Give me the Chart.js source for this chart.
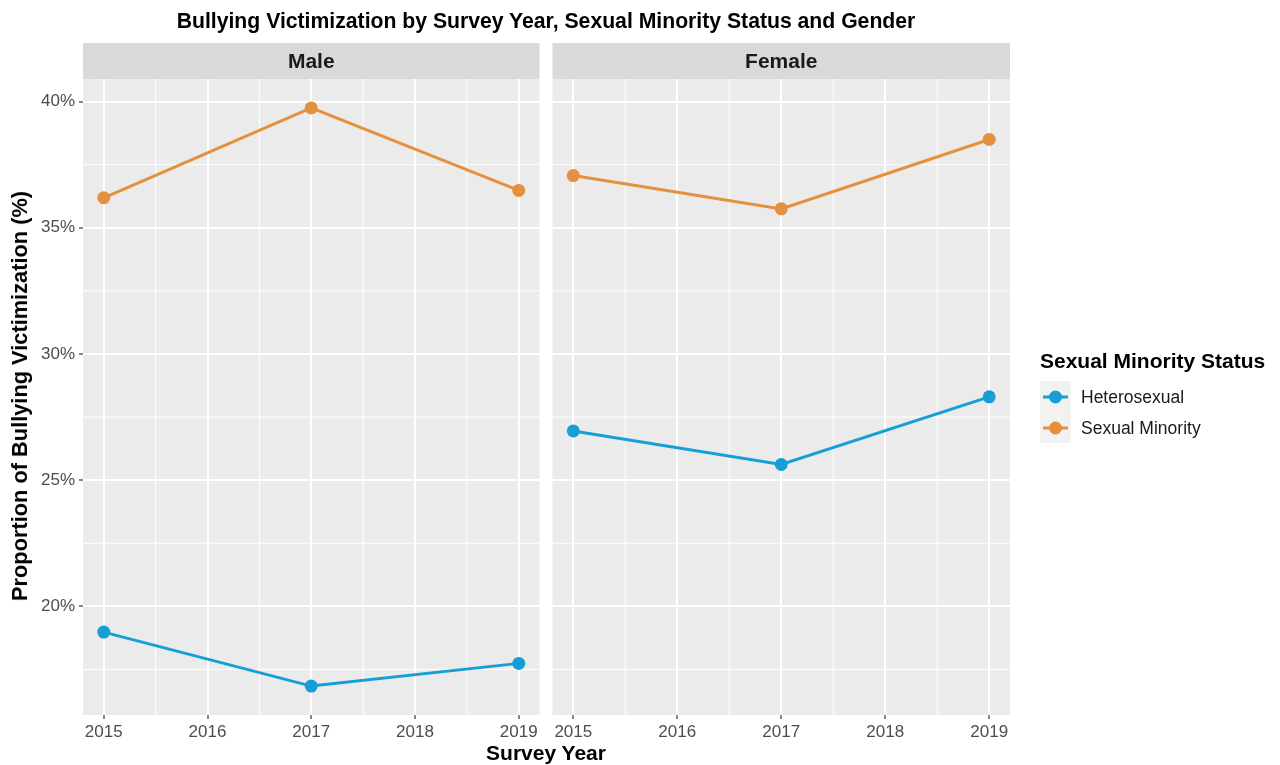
<!DOCTYPE html>
<html>
<head>
<meta charset="utf-8">
<script src="https://cdn.jsdelivr.net/npm/chart.js@4.4.1/dist/chart.umd.min.js"></script>
<style>
  html, body { margin: 0; padding: 0; background: #ffffff; }
  body { width: 1280px; height: 765px; position: relative; overflow: hidden;
         font-family: "Liberation Sans", Arial, Helvetica, sans-serif; }
  #male  { position: absolute; left: 0;   top: 0; width: 546px; height: 765px; }
  #female{ position: absolute; left: 546px; top: 0; width: 734px; height: 765px; }
  .txt { position: absolute; font-weight: bold; color: #000; white-space: nowrap; }
  #title  { left: 546px; top: 21px; transform: translate(-50%, -50%); font-size: 21.2px; }
  #xtitle { left: 546px; top: 753px; transform: translate(-50%, -50%); font-size: 21px; }
  #ytitle { left: 20px; top: 396px; transform: translate(-50%, -50%) rotate(-90deg); font-size: 21.8px; }
</style>
</head>
<body>
<canvas id="male" width="546" height="765"></canvas>
<canvas id="female" width="734" height="765"></canvas>
<div class="txt" id="title">Bullying Victimization by Survey Year, Sexual Minority Status and Gender</div>
<div class="txt" id="xtitle">Survey Year</div>
<div class="txt" id="ytitle">Proportion of Bullying Victimization (%)</div>
<script>
// Survey years and proportions (%) per gender panel
const years = [2015, 2017, 2019];
const groups = ['Heterosexual', 'Sexual Minority'];
const maleHetero = [18.98, 16.84, 17.74];
const maleMinority = [36.19, 39.75, 36.48];
const femaleHetero = [26.95, 25.62, 28.30];
const femaleMinority = [37.07, 35.75, 38.50];

// Axis breaks
const xTicks = [2015, 2016, 2017, 2018, 2019];
const xMinor = [2015.5, 2016.5, 2017.5, 2018.5];
const yTicks = [20, 25, 30, 35, 40];
const yMinor = [17.5, 22.5, 27.5, 32.5, 37.5];

const groupColors = ['#169FD6', '#E4913F'];
const FONT = '"Liberation Sans", Arial, Helvetica, sans-serif';

// Shared limits with 5% expansion on each side
const allVals = maleHetero.concat(maleMinority, femaleHetero, femaleMinority);
const yLo = Math.min(...allVals), yHi = Math.max(...allVals);
const yPad = (yHi - yLo) * 0.05;
const xPad = (Math.max(...years) - Math.min(...years)) * 0.05;

function toPoints(vals) { return years.map((y, i) => ({ x: y, y: vals[i] })); }

function makeDatasets(het, minor) {
  return [het, minor].map((vals, i) => ({
    label: groups[i],
    data: toPoints(vals),
    borderColor: groupColors[i],
    backgroundColor: groupColors[i],
    borderWidth: 3,
    pointRadius: 6.5,
    pointHoverRadius: 6.5,
    pointBorderWidth: 0,
    tension: 0,
    clip: false
  }));
}

// Panel background, minor grid and facet strip
const panelPlugin = {
  id: 'panel',
  beforeDraw(chart, args, opts) {
    const { ctx, chartArea: a } = chart;
    ctx.save();
    ctx.fillStyle = '#EBEBEB';
    ctx.fillRect(a.left, a.top, a.right - a.left, a.bottom - a.top);
    // strip
    ctx.fillStyle = '#D9D9D9';
    ctx.fillRect(a.left, 43, a.right - a.left, a.top - 43);
    ctx.fillStyle = '#1A1A1A';
    ctx.font = 'bold 21px ' + FONT;
    ctx.textAlign = 'center';
    ctx.textBaseline = 'middle';
    ctx.fillText(opts.strip, (a.left + a.right) / 2, (43 + a.top) / 2 + 1);
    // minor grid
    const xs = chart.scales.x, ys = chart.scales.y;
    ctx.strokeStyle = '#FFFFFF';
    ctx.lineWidth = 1;
    xMinor.forEach(v => {
      const px = xs.getPixelForValue(v);
      ctx.beginPath(); ctx.moveTo(px, a.top); ctx.lineTo(px, a.bottom); ctx.stroke();
    });
    yMinor.forEach(v => {
      const py = ys.getPixelForValue(v);
      ctx.beginPath(); ctx.moveTo(a.left, py); ctx.lineTo(a.right, py); ctx.stroke();
    });
    ctx.restore();
  }
};

// Legend drawn to the right of the female panel
const legendPlugin = {
  id: 'sideLegend',
  afterDraw(chart, args, opts) {
    if (!opts.show) return;
    const { ctx } = chart;
    const x0 = 494;
    ctx.save();
    ctx.fillStyle = '#000';
    ctx.font = 'bold 21px ' + FONT;
    ctx.textAlign = 'left';
    ctx.textBaseline = 'middle';
    ctx.fillText('Sexual Minority Status', x0, 362);
    ctx.fillStyle = '#F2F2F2';
    ctx.fillRect(x0, 381, 31, 62);
    chart.data.datasets.forEach((ds, i) => {
      const cy = 397 + i * 31;
      ctx.strokeStyle = ds.borderColor;
      ctx.lineWidth = 3;
      ctx.beginPath(); ctx.moveTo(x0 + 3, cy); ctx.lineTo(x0 + 28, cy); ctx.stroke();
      ctx.fillStyle = ds.backgroundColor;
      ctx.beginPath(); ctx.arc(x0 + 15.5, cy, 6.5, 0, Math.PI * 2); ctx.fill();
      ctx.fillStyle = '#1A1A1A';
      ctx.font = '17.5px ' + FONT;
      ctx.fillText(ds.label, x0 + 41, cy + 1);
    });
    ctx.restore();
  }
};

function makeChart(id, strip, het, minor, showY, pad) {
  return new Chart(document.getElementById(id), {
    type: 'line',
    data: { datasets: makeDatasets(het, minor) },
    plugins: [panelPlugin, legendPlugin],
    options: {
      responsive: false,
      animation: false,
      events: [],
      layout: { padding: pad },
      plugins: {
        legend: { display: false },
        tooltip: { enabled: false },
        title: { display: false },
        panel: { strip: strip },
        sideLegend: { show: !showY }
      },
      scales: {
        x: {
          type: 'linear',
          min: Math.min(...years) - xPad,
          max: Math.max(...years) + xPad,
          afterBuildTicks: s => { s.ticks = xTicks.map(v => ({ value: v })); },
          afterFit: s => { s.height = 50; },
          border: { display: false },
          grid: { color: '#FFFFFF', lineWidth: 2, drawTicks: true, tickLength: 4,
                  tickColor: '#333333', tickWidth: 1.2 },
          ticks: { color: '#4D4D4D', padding: 3, maxRotation: 0, autoSkip: false,
                   font: { family: FONT, size: 17 }, callback: v => String(v) }
        },
        y: {
          type: 'linear',
          min: yLo - yPad,
          max: yHi + yPad,
          afterBuildTicks: s => { s.ticks = yTicks.map(v => ({ value: v })); },
          afterFit: s => { s.width = showY ? 83 : 0; },
          border: { display: false },
          grid: { color: '#FFFFFF', lineWidth: 2, drawTicks: showY, tickLength: 4,
                  tickColor: '#333333', tickWidth: 1.2 },
          ticks: { display: showY, color: '#4D4D4D', padding: 4,
                   font: { family: FONT, size: 17 }, callback: v => v + '%' }
        }
      }
    }
  });
}

makeChart('male', 'Male', maleHetero, maleMinority, true,
          { top: 79, right: 5, bottom: 0, left: 0 });
makeChart('female', 'Female', femaleHetero, femaleMinority, false,
          { top: 79, right: 270, bottom: 0, left: 6 });
</script>
</body>
</html>
